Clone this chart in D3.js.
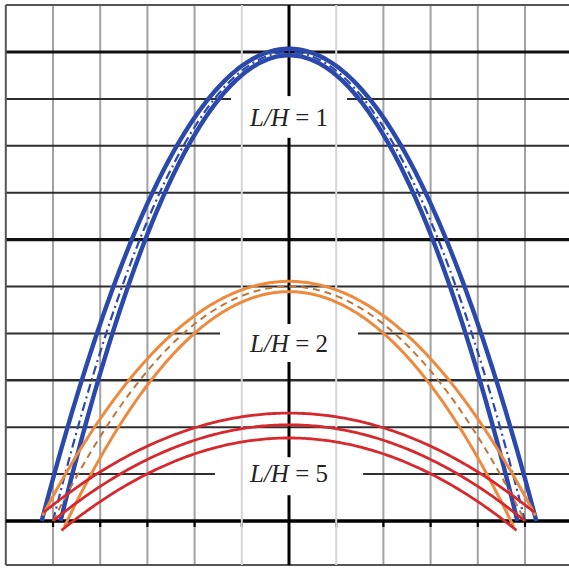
<!DOCTYPE html>
<html>
<head>
<meta charset="utf-8">
<script src="https://cdn.jsdelivr.net/npm/d3@7"></script>
<style>
  html, body { margin: 0; padding: 0; background: #fff; }
  svg { display: block; }
</style>
</head>
<body>
<svg id="chart" width="569" height="568"></svg>
<script>
// Span-to-rise ratios of the three arch families
const ratios = [1, 2, 5];
// Each family: outer, centre and inner curve, y = H * (1 - (x / a)^2)
const peakHeights   = [[10.07, 10.0, 9.93], [5.11, 5.0, 4.89], [2.3, 2.05, 1.77]];
const rootHalfSpans = [[5.24, 5.0, 4.84], [5.28, 5.0, 4.7], [5.42, 5.0, 4.57]];
const endHalfSpans  = [[5.24, 5.0, 4.84], [5.22, 5.0, 4.76], [5.2, 5.0, 4.82]];
// Label placement (data units): baseline height, backing box top/bottom, box half width
const labelBaseline = [8.42, 3.6, 0.83];
const labelBoxTop    = [9.06, 4.2, 1.36];
const labelBoxBottom = [8.17, 3.39, 0.55];
const labelBoxHalf   = [1.23, 1.46, 1.57];
// Grid
const gridX = d3.range(-6, 7);
const gridY = d3.range(0, 12);
const frameBottom = -0.94;

const colors = ["#2b48ac", "#ee8a3e", "#d7282d"];

const svg = d3.select("#chart");
const x = d3.scaleLinear().domain([-6, 6]).range([5.8, 572.2]);
const y = d3.scaleLinear().domain([0, 10]).range([521, 52]);

svg.append("rect").attr("width", 569).attr("height", 568).attr("fill", "#fff");

// vertical grid lines
svg.append("g").selectAll("line").data(gridX.filter(d => d !== 0 && Math.abs(d) !== 1 && d !== -6))
  .join("line")
  .attr("x1", d => x(d)).attr("x2", d => x(d))
  .attr("y1", y(11)).attr("y2", y(frameBottom))
  .attr("stroke", "#a2a2a2").attr("stroke-width", 2);

// horizontal grid lines
const heavy = new Set([10, 6]);
svg.append("g").selectAll("line").data(gridY.filter(d => d !== 0 && d !== 11))
  .join("line")
  .attr("x1", x(-6)).attr("x2", x(6))
  .attr("y1", d => y(d)).attr("y2", d => y(d))
  .attr("stroke", d => heavy.has(d) ? "#111" : "#2e2e2e")
  .attr("stroke-width", d => heavy.has(d) ? 3.2 : (d === 3 ? 2.4 : 2));

// frame
svg.append("line").attr("x1", x(-6)).attr("x2", x(6)).attr("y1", y(11)).attr("y2", y(11))
  .attr("stroke", "#555").attr("stroke-width", 2);
svg.append("line").attr("x1", x(-6)).attr("x2", x(6)).attr("y1", y(frameBottom)).attr("y2", y(frameBottom))
  .attr("stroke", "#555").attr("stroke-width", 2);
svg.append("line").attr("x1", x(-6)).attr("x2", x(-6)).attr("y1", y(11)).attr("y2", y(frameBottom))
  .attr("stroke", "#555").attr("stroke-width", 2);

// axes
svg.append("line").attr("x1", x(-6)).attr("x2", x(6)).attr("y1", y(0)).attr("y2", y(0))
  .attr("stroke", "#000").attr("stroke-width", 3.6);
svg.append("line").attr("x1", x(0)).attr("x2", x(0)).attr("y1", y(11)).attr("y2", y(frameBottom))
  .attr("stroke", "#000").attr("stroke-width", 3);

// x-axis ticks
svg.append("g").selectAll("line").data(gridX.filter(d => d !== 0 && d !== -6))
  .join("line")
  .attr("x1", d => x(d)).attr("x2", d => x(d))
  .attr("y1", y(0)).attr("y2", y(0) + 6)
  .attr("stroke", "#000").attr("stroke-width", 2.2);

// label backing boxes
ratios.forEach((r, i) => {
  svg.append("rect")
    .attr("x", x(-labelBoxHalf[i])).attr("y", y(labelBoxTop[i]))
    .attr("width", x(labelBoxHalf[i]) - x(-labelBoxHalf[i]))
    .attr("height", y(labelBoxBottom[i]) - y(labelBoxTop[i]))
    .attr("fill", "#fff");
});

// light minor lines beside the centre axis
svg.append("g").selectAll("line").data([-1, 1])
  .join("line")
  .attr("x1", d => x(d)).attr("x2", d => x(d))
  .attr("y1", y(11)).attr("y2", y(frameBottom))
  .attr("stroke", "#d6d6d6").attr("stroke-width", 2);

// arch curves
const line = d3.line().x(d => x(d[0])).y(d => y(d[1])).curve(d3.curveLinear);
function curvePoints(H, a, e) {
  const pts = [];
  const n = 200;
  for (let k = 0; k <= n; k++) {
    const u = -e + (2 * e * k) / n;
    pts.push([u, H * (1 - (u / a) * (u / a))]);
  }
  return pts;
}

const edgeWidth = [4.4, 3, 2.8];
ratios.forEach((r, i) => {
  const g = svg.append("g");
  const c = colors[i];
  [0, 2].forEach(j => {
    g.append("path")
      .attr("d", line(curvePoints(peakHeights[i][j], rootHalfSpans[i][j], endHalfSpans[i][j])))
      .attr("fill", "none").attr("stroke", c)
      .attr("stroke-width", edgeWidth[i]);
  });
  const mid = g.append("path")
    .attr("d", line(curvePoints(peakHeights[i][1], rootHalfSpans[i][1], endHalfSpans[i][1])))
    .attr("fill", "none");
  if (i === 0) {
    mid.attr("stroke", c).attr("stroke-width", 2.2).attr("stroke-dasharray", "9,4,2,4");
  } else if (i === 1) {
    mid.attr("stroke", "#c0753a").attr("stroke-width", 2).attr("stroke-dasharray", "7,5");
  } else {
    mid.attr("stroke", c).attr("stroke-width", 2.8);
  }
});

// labels
ratios.forEach((r, i) => {
  const t = svg.append("text")
    .attr("x", x(0)).attr("y", y(labelBaseline[i]))
    .attr("text-anchor", "middle")
    .attr("font-family", "'Liberation Serif', serif")
    .attr("font-size", 25).attr("fill", "#222")
    .style("white-space", "pre");
  t.append("tspan").attr("font-style", "italic").text("L/H");
  t.append("tspan").text(" = " + r);
});
</script>
</body>
</html>
